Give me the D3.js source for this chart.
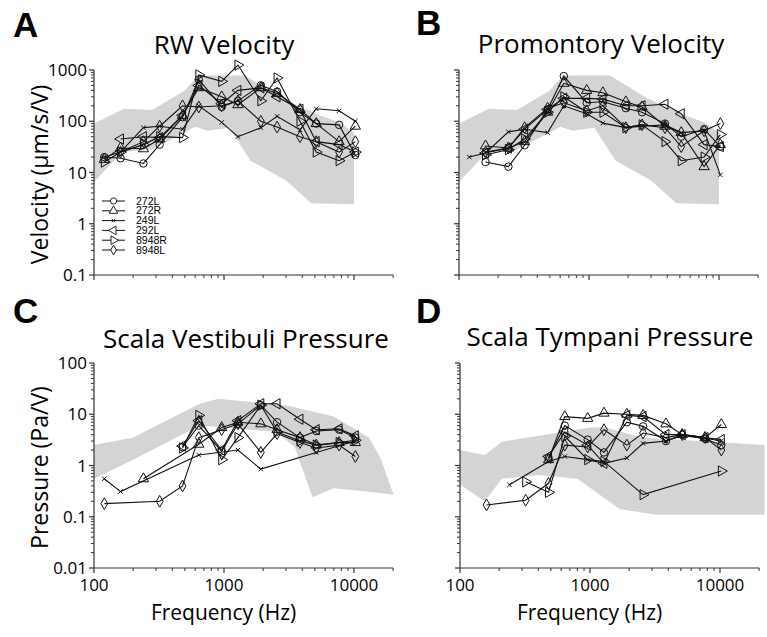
<!DOCTYPE html>
<html>
<head>
<meta charset="utf-8">
<script src="https://cdn.jsdelivr.net/npm/d3@7"></script>
<style>
  body { margin: 0; background: #fff; }
  svg { display: block; font-family: "Open Sans", "Noto Sans", sans-serif; }
</style>
</head>
<body>
<div id="chart"></div>
<script>
// measurement frequencies (Hz)
const freqs = [120, 160, 240, 320, 480, 640, 960, 1280, 1920, 2560, 3840, 5120, 7680, 10240]
const animals = ['272L', '272R', '249L', '292L', '8948R', '8948L']

// A: RW velocity (um/s/V)
const rw272L  = [20, 19, 15, 35, 120, 650, 190, 250, 500, 380, 150, 90, 85, 22]
const rw272R  = [18, 30, 29, 45, 130, 450, 300, 210, 450, 350, 170, 90, 40, 80]
const rw249L  = [20, 25, 75, 80, 70, 200, 95, 50, 75, 125, 68, 175, 160, 100]
const rw292L  = [null, 45, 50, 48, 130, 500, 220, 400, 450, 300, 170, 40, 35, 25]
const rw8948R = [16, 25, 35, 50, 48, 800, 600, 1250, 250, 700, 100, 25, 17, 25]
const rw8948L = [null, 25, 40, 80, 200, 190, 200, 250, 100, 77, 50, 40, 25, 40]

// B: promontory velocity (um/s/V)
const pr272L  = [null, 16, 13, 34, 170, 760, 230, 240, 180, 150, 90, 50, 70, 32]
const pr272R  = [null, 33, 30, 40, 150, 550, 400, 360, 240, 190, 80, 60, 13, 35]
const pr249L  = [20, 24, 62, 70, 60, 200, 140, 92, 75, 80, 85, 60, 65, 9]
const pr292L  = [null, 24, 30, 70, 170, 280, 280, 270, 200, 200, 215, 140, 35, 32]
const pr8948R = [null, 22, 28, 45, 150, 300, 150, 150, 75, 85, 40, 17, 20, 55]
const pr8948L = [null, 25, 30, 75, 180, 230, 160, 200, 75, 85, 75, 32, 65, 90]

// C: scala vestibuli pressure (Pa/V)
const sv272L  = [null, null, null, null, 2.3, 6, 1.9, 6.5, 15, 7, 3.5, 4.7, 5, 3.5]
const sv272R  = [null, null, 0.55, null, null, 2.6, 5.5, 7, 6.5, 5, 3.5, 2.5, 2.8, 2.8]
const sv249L  = [0.55, 0.31, null, null, null, 1.6, null, 2.0, 0.85, null, null, 1.8, null, 3.0]
const sv292L  = [null, null, null, null, 2.4, 7.5, 2.0, 7.5, 16, 16, 8, 5, 5.2, 3.8]
const sv8948R = [null, null, null, null, 2.2, 9.5, 1.3, 3.5, 15, 4.5, 3, 2.5, 2.8, 3.1]
const sv8948L = [0.18, null, null, 0.2, 0.4, 3.5, 5, 6.5, 1.8, 4.2, 2.8, 2.2, 2.5, 1.5]

// D: scala tympani pressure (Pa/V)
const st272L  = [null, null, null, null, 1.4, 6, 3.2, 1.8, 7, 5.8, 3, 4, 3.3, 2.5]
const st272R  = [null, null, null, null, 1.3, 9, 8.3, 10.5, 10, 9.5, 6.5, 4, 3.5, 6.3]
const st249L  = [null, null, 0.42, null, 1.2, 1.5, 1.3, 1.1, 1.4, 2.7, 3, 3.8, 3.4, 3]
const st292L  = [null, null, null, null, 1.5, 4.5, 2.5, 1.1, 9.5, 9, 4, 4, 3.5, 3.2]
const st8948R = [null, null, null, 0.48, 0.3, 3.7, 1.3, 1.2, null, 0.27, null, null, null, 0.78]
const st8948L = [null, 0.17, null, 0.21, 0.45, 2.5, 2.3, 5, 2.5, 4.3, 3.5, 4, 3.5, 2.0]

// shaded normal range, [freq, value]
const velBandUpper = [[100, 90], [170, 175], [280, 165], [500, 400], [630, 780], [1450, 780], [2800, 280], [5500, 130], [7800, 95], [10000, 60]]
const velBandLower = [[100, 6.5], [165, 25], [280, 28], [600, 78], [750, 65], [1100, 75], [1600, 17], [3000, 7], [4700, 2.5], [10000, 2.4]]
const svBandUpper = [[100, 2.5], [200, 3.5], [650, 16], [900, 20], [3000, 15], [7000, 9], [13000, 3.5], [16000, 1.4], [20000, 0.28]]
const svBandLower = [[100, 0.55], [200, 1.3], [650, 6], [900, 5.7], [2500, 4.5], [3500, 2.3], [4800, 0.24], [7000, 0.36], [14000, 0.3], [20000, 0.27]]
const stBandUpper = [[100, 2.0], [155, 1.6], [210, 2.9], [1000, 5.5], [1300, 5.6], [2500, 3.5], [22000, 2.5]]
const stBandLower = [[100, 0.42], [155, 0.2], [210, 0.55], [400, 0.65], [800, 0.55], [1700, 0.14], [3300, 0.11], [22000, 0.11]]

const velTicks = [0.1, 1, 10, 100, 1000]
const presTicks = [0.01, 0.1, 1, 10, 100]
const freqTicks = [100, 1000, 10000]

const W = 767, H = 637
const svg = d3.select('#chart').append('svg').attr('width', W).attr('height', H)

const panels = [
  { letter: 'A', title: 'RW Velocity', series: [rw272L, rw272R, rw249L, rw292L, rw8948R, rw8948L],
    upper: velBandUpper, lower: velBandLower, ydom: [0.1, 1000], yticks: velTicks,
    x0: 94, top: 70, bottom: 275, ylab: 'Velocity (\u00b5m/s/V)', xlab: false, legend: true,
    lx: 13, ly: 37, tx: 224, ty: 54 },
  { letter: 'B', title: 'Promontory Velocity', series: [pr272L, pr272R, pr249L, pr292L, pr8948R, pr8948L],
    upper: velBandUpper, lower: velBandLower, ydom: [0.1, 1000], yticks: velTicks,
    x0: 459, top: 70, bottom: 275, ylab: null, xlab: false,
    lx: 416, ly: 35, tx: 601, ty: 53 },
  { letter: 'C', title: 'Scala Vestibuli Pressure', series: [sv272L, sv272R, sv249L, sv292L, sv8948R, sv8948L],
    upper: svBandUpper, lower: svBandLower, ydom: [0.01, 100], yticks: presTicks,
    x0: 94, top: 363, bottom: 568, ylab: 'Pressure (Pa/V)', xlab: true,
    lx: 13, ly: 323, tx: 246, ty: 348 },
  { letter: 'D', title: 'Scala Tympani Pressure', series: [st272L, st272R, st249L, st292L, st8948R, st8948L],
    upper: stBandUpper, lower: stBandLower, ydom: [0.01, 100], yticks: presTicks,
    x0: 460, top: 363, bottom: 568, ylab: null, xlab: true,
    lx: 416, ly: 323, tx: 610, ty: 346 }
]

// marker per animal
const markers = [
  { type: d3.symbolCircle, size: 44, rot: 0 },
  { type: d3.symbolTriangle, size: 46, rot: 0 },
  { type: d3.symbolTimes, size: 14, rot: 0 },
  { type: d3.symbolTriangle, size: 46, rot: -90 },
  { type: d3.symbolTriangle, size: 46, rot: 90 },
  { type: d3.symbolDiamond, size: 40, rot: 0 }
]
const axisCol = '#333'
const band = '#d3d4d6'

panels.forEach(p => {
  const x = d3.scaleLog().domain([100, 20000]).range([p.x0, p.x0 + 130 * Math.log10(200)])
  const y = d3.scaleLog().domain(p.ydom).range([p.bottom, p.top])
  const g = svg.append('g')

  // gray band
  const bandPts = p.upper.concat(p.lower.slice().reverse())
  g.append('path')
    .attr('d', d3.line().x(d => x(d[0])).y(d => y(d[1]))(bandPts) + 'Z')
    .attr('fill', band)

  // series
  p.series.forEach((vals, i) => {
    const pts = freqs.map((f, j) => [f, vals[j]]).filter(d => d[1] != null)
    g.append('path')
      .attr('d', d3.line().x(d => x(d[0])).y(d => y(d[1]))(pts))
      .attr('fill', 'none').attr('stroke', '#111').attr('stroke-width', 1.1)
    const m = markers[i]
    g.selectAll(null).data(pts).join('path')
      .attr('d', d3.symbol().type(m.type).size(m.size))
      .attr('transform', d => `translate(${x(d[0])},${y(d[1])}) rotate(${m.rot})`)
      .attr('fill', 'none').attr('stroke', '#111').attr('stroke-width', 1)
  })

  // y axis with minor ticks
  const yAxis = g.append('g').attr('transform', `translate(${p.x0},0)`)
  yAxis.append('line').attr('y1', p.top).attr('y2', p.bottom).attr('stroke', axisCol).attr('stroke-width', 1.2)
  const ymin = Math.log10(p.ydom[0]), ymax = Math.log10(p.ydom[1])
  for (let e = ymin; e < ymax; e++) {
    for (let k = 2; k < 10; k++) {
      const v = k * Math.pow(10, e)
      yAxis.append('line').attr('x1', -3).attr('x2', 0).attr('y1', y(v)).attr('y2', y(v)).attr('stroke', axisCol)
    }
  }
  p.yticks.forEach(v => {
    yAxis.append('line').attr('x1', -5).attr('x2', 0).attr('y1', y(v)).attr('y2', y(v)).attr('stroke', axisCol).attr('stroke-width', 1.2)
    if (p.ylab) {
      yAxis.append('text').attr('x', -7).attr('y', y(v)).attr('dy', '0.36em')
        .attr('text-anchor', 'end').attr('font-size', 17).text(v)
    }
  })

  // x axis with minor ticks
  const xAxis = g.append('g').attr('transform', `translate(0,${p.bottom})`)
  xAxis.append('line').attr('x1', x(100)).attr('x2', x(20000)).attr('stroke', axisCol).attr('stroke-width', 1.2)
  for (let e = 2; e < 5; e++) {
    for (let k = 2; k < 10; k++) {
      const f = k * Math.pow(10, e)
      if (f > 20000) break
      xAxis.append('line').attr('x1', x(f)).attr('x2', x(f)).attr('y1', 0).attr('y2', 3).attr('stroke', axisCol)
    }
  }
  freqTicks.forEach(f => {
    xAxis.append('line').attr('x1', x(f)).attr('x2', x(f)).attr('y1', 0).attr('y2', 5).attr('stroke', axisCol).attr('stroke-width', 1.2)
    if (p.xlab) {
      xAxis.append('text').attr('x', x(f)).attr('y', 23).attr('text-anchor', 'middle')
        .attr('font-size', 17).text(f)
    }
  })
  if (p.xlab) {
    g.append('text').attr('x', (x(100) + x(20000)) / 2 - 20).attr('y', 620)
      .attr('text-anchor', 'middle').attr('font-size', 21).text('Frequency (Hz)')
  }
  if (p.ylab) {
    g.append('text').attr('transform', `translate(48,${(p.top + p.bottom) / 2 + 2}) rotate(-90)`)
      .attr('text-anchor', 'middle').attr('font-size', 23).text(p.ylab)
  }

  // titles
  g.append('text').attr('x', p.lx).attr('y', p.ly).attr('font-size', 35).attr('font-weight', 'bold')
    .attr('font-family', 'Liberation Sans, Arial, sans-serif').text(p.letter)
  g.append('text').attr('x', p.tx).attr('y', p.ty).attr('text-anchor', 'middle').attr('font-size', 26).text(p.title)

  // legend
  if (p.legend) {
    animals.forEach((a, i) => {
      const ly = 201 + i * 9.8
      g.append('line').attr('x1', 102).attr('x2', 125).attr('y1', ly).attr('y2', ly).attr('stroke', '#111')
      const m = markers[i]
      g.append('path').attr('d', d3.symbol().type(m.type).size(m.size * 0.7))
        .attr('transform', `translate(113.5,${ly}) rotate(${m.rot})`)
        .attr('fill', '#fff').attr('stroke', '#111').attr('stroke-width', 0.9)
      g.append('text').attr('x', 136).attr('y', ly).attr('dy', '0.35em')
        .attr('font-family', 'Liberation Sans, Arial, sans-serif').attr('font-size', 10.5).text(a)
    })
  }
})
</script>
</body>
</html>
